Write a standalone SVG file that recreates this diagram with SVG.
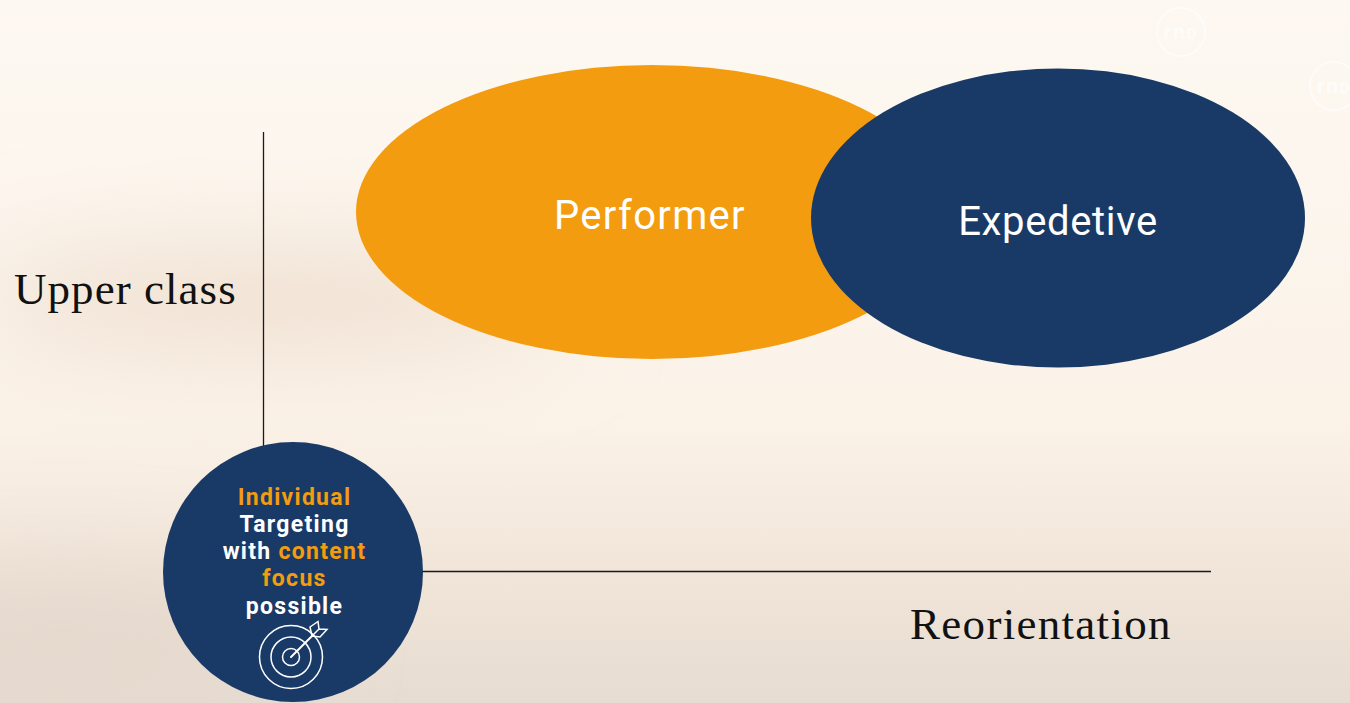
<svg xmlns="http://www.w3.org/2000/svg" width="1350" height="703" viewBox="0 0 1350 703">
<defs>
<style>
.axis{stroke:#1a1a1a;stroke-width:1.3;fill:none}
.serif{font-family:"Liberation Serif",serif;font-size:45px;fill:#111;letter-spacing:1.05px}
.big{font-family:Roboto,"Liberation Sans",sans-serif;font-size:40px;fill:#fff;text-anchor:middle}
.small{font-family:Roboto,"Liberation Sans",sans-serif;font-size:23px;font-weight:700;fill:#fff;text-anchor:middle;letter-spacing:1.3px}
.o{fill:#f39c0f}
.ic{fill:none;stroke:#fff;stroke-width:1.5}
.logo{fill:none;stroke:#fff;stroke-width:2;opacity:.6}
.logot{font-family:Roboto,sans-serif;font-size:21px;font-weight:700;fill:#fff;opacity:.65;text-anchor:middle;letter-spacing:2px}
.logod{font-size:15px}
</style>
<linearGradient id="bg" x1="0" y1="0" x2="0" y2="1">
<stop offset="0" stop-color="#fdf8f1"/><stop offset=".25" stop-color="#fcf6ee"/><stop offset=".6" stop-color="#fbf2e8"/><stop offset=".8" stop-color="#f2e6da"/><stop offset="1" stop-color="#e7dcd1"/>
</linearGradient>
<filter id="b" x="-50%" y="-100%" width="200%" height="300%"><feGaussianBlur stdDeviation="50"/></filter>
</defs>
<g id="background">
<rect width="1350" height="703" fill="url(#bg)"/>
<ellipse cx="270" cy="300" rx="300" ry="50" fill="#efdfd0" filter="url(#b)"/>
<ellipse cx="60" cy="640" rx="240" ry="60" fill="#e4d8cd" filter="url(#b)"/>
</g>
<g id="connectors">
<line class="axis" x1="263.500" y1="132" x2="263.500" y2="450"/>
<line class="axis" x1="420" y1="571.500" x2="1211" y2="571.500"/>
</g>
<g id="logo-1"><circle class="logo" cx="1181" cy="32" r="24"/><text class="logot" x="1181" y="38.500">rn<tspan class="logod">D</tspan></text></g>
<g id="logo-2"><circle class="logo" cx="1334" cy="86" r="24"/><text class="logot" x="1334" y="92.500">rn<tspan class="logod">D</tspan></text></g>
<g id="label-upper"><text class="serif" x="14" y="304">Upper class</text></g>
<g id="label-reorientation"><text class="serif" x="910" y="639" style="letter-spacing:1.3px">Reorientation</text></g>
<g id="performer"><ellipse class="o" cx="652" cy="212" rx="296" ry="147"/><text class="big" x="650" y="229" letter-spacing="1.3">Performer</text></g>
<g id="expedetive"><ellipse cx="1058" cy="218" rx="247" ry="149.500" fill="#193a66"/><text class="big" x="1058" y="235" letter-spacing=".65">Expedetive</text></g>
<g id="targeting">
<circle cx="293" cy="572" r="130" fill="#193a66"/>
<text class="small" x="294.500" y="505"><tspan class="o">Individual</tspan></text>
<text class="small" x="294.500" y="532">Targeting</text>
<text class="small" x="294.500" y="559">with <tspan class="o">content</tspan></text>
<text class="small" x="294.500" y="586"><tspan class="o">focus</tspan></text>
<text class="small" x="294.500" y="614">possible</text>
<circle class="ic" cx="291" cy="657" r="31.500"/>
<circle class="ic" cx="291" cy="657" r="20"/>
<circle class="ic" cx="291" cy="657" r="8.500"/>
<path class="ic" stroke-linecap="round" d="M291 657L312 636" style="stroke-width:2"/>
<path class="ic" d="M312 636L310 627L318 621.500L319 629L327 629.500L320 637ZM312 636L319 629"/>
</g>
</svg>
